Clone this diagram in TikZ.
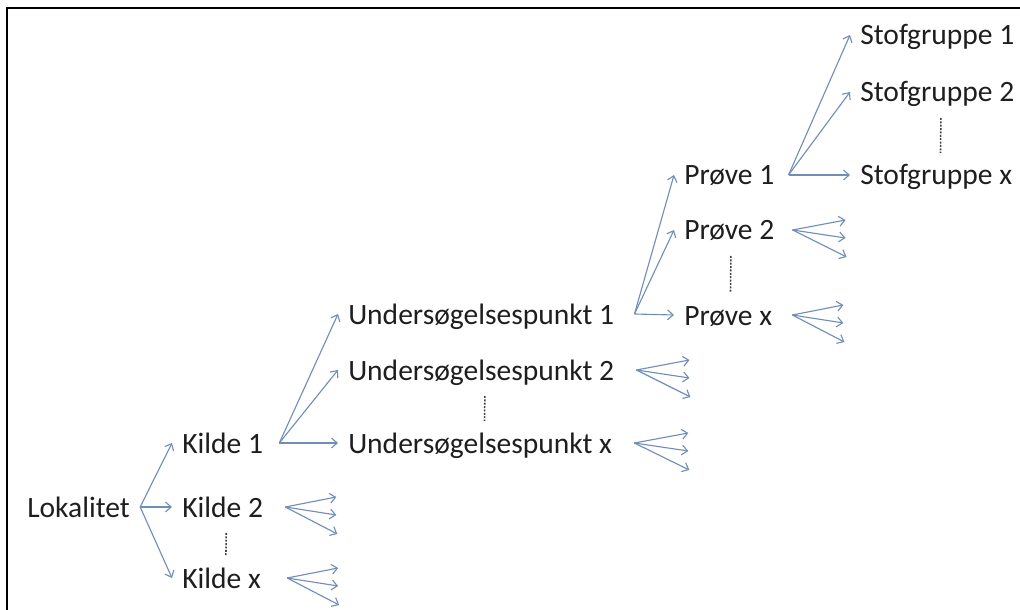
\documentclass[tikz,border=0pt]{standalone}
\usepackage{fontspec}
\setmainfont{Carlito}
\usetikzlibrary{arrows.meta}
\definecolor{arrowblue}{RGB}{112,142,184}
\definecolor{textgray}{RGB}{30,30,30}

\begin{document}
\begin{tikzpicture}[x=0.025cm,y=-0.025cm,
  lbl/.style={anchor=base west,inner xsep=0.25cm,inner ysep=0pt,text height=0.6cm,text depth=0.1cm,text=textgray,font=\fontsize{21}{25}\selectfont},
  link/.style={draw=arrowblue,line width=0.8pt,-{Straight Barb[length=4pt,width=7pt]}},
  dots/.style={draw=textgray!85,line width=1.1pt,dash pattern=on 1.4pt off 1pt,shorten <=0.65cm,shorten >=0.55cm}]
\useasboundingbox (0,0) rectangle (1020,610);
% Frame
\draw[line width=1.5pt] (7,610) -- (7,8) -- (1020,8);
% Nodes
\node[lbl] (lok) at (17,517) {Lokalitet};
\node[lbl] (k1) at (172,453) {Kilde 1};
\node[lbl] (k2) at (172,517) {Kilde 2};
\node[lbl] (kx) at (172,588) {Kilde x};
\node[lbl] (u1) at (338,324) {Undersøgelsespunkt 1};
\node[lbl] (u2) at (338,380) {Undersøgelsespunkt 2};
\node[lbl] (ux) at (338,453) {Undersøgelsespunkt x};
\node[lbl] (p1) at (674,185) {Prøve 1};
\node[lbl] (p2) at (674,240) {Prøve 2};
\node[lbl] (px) at (674,325) {Prøve x};
\node[lbl] (s1) at (850,45) {Stofgruppe 1};
\node[lbl] (s2) at (850,102) {Stofgruppe 2};
\node[lbl] (sx) at (850,185) {Stofgruppe x};
% Fan origins
\coordinate (lokO) at (lok.east);
\coordinate (k1O) at ([xshift=0.15cm]k1.east);
\coordinate (u1O) at ([xshift=0.25cm]u1.east);
\coordinate (p1O) at ([xshift=0.1cm]p1.east);
\coordinate (k2O) at ([xshift=0.3cm]k2.east);
\coordinate (kxO) at ([xshift=0.4cm]kx.east);
\coordinate (u2O) at ([xshift=0.3cm]u2.east);
\coordinate (uxO) at ([xshift=0.3cm]ux.east);
\coordinate (p2O) at ([xshift=0.2cm]p2.east);
\coordinate (pxO) at ([xshift=0.25cm]px.east);
% Node Connections
\draw[link] (lokO) -- (k1.west);
\draw[link] (lokO) -- (k2.west);
\draw[link] (lokO) -- (kx.west);
\draw[link] (k1O) -- (u1.west);
\draw[link] (k1O) -- (u2.west);
\draw[link] (k1O) -- (ux.west);
\draw[link] (u1O) -- (p1.west);
\draw[link] (u1O) -- (p2.west);
\draw[link] (u1O) -- (px.west);
\draw[link] (p1O) -- (s1.west);
\draw[link] (p1O) -- (s2.west);
\draw[link] (p1O) -- (sx.west);
% Open ends
\draw[link] (k2O) -- ++(51,-10);
\draw[link] (k2O) -- ++(51,8);
\draw[link] (k2O) -- ++(52,27);
\draw[link] (kxO) -- ++(51,-10);
\draw[link] (kxO) -- ++(51,8);
\draw[link] (kxO) -- ++(52,27);
\draw[link] (u2O) -- ++(53,-10);
\draw[link] (u2O) -- ++(53,8);
\draw[link] (u2O) -- ++(54,27);
\draw[link] (uxO) -- ++(54,-10);
\draw[link] (uxO) -- ++(54,8);
\draw[link] (uxO) -- ++(55,27);
\draw[link] (p2O) -- ++(53,-10);
\draw[link] (p2O) -- ++(53,8);
\draw[link] (p2O) -- ++(54,27);
\draw[link] (pxO) -- ++(51,-10);
\draw[link] (pxO) -- ++(51,8);
\draw[link] (pxO) -- ++(52,27);
% Dots
\draw[dots] ([xshift=0.1cm]k2.center) -- ([xshift=0.1cm]kx.center);
\draw[dots] ([xshift=0.1cm]u2.center) -- ([xshift=0.1cm]ux.center);
\draw[dots] ([xshift=0.05cm]p2.center) -- ([xshift=0.05cm]px.center);
\draw[dots] ([xshift=0.1cm]s2.center) -- ([xshift=0.1cm]sx.center);
\end{tikzpicture}
\end{document}
